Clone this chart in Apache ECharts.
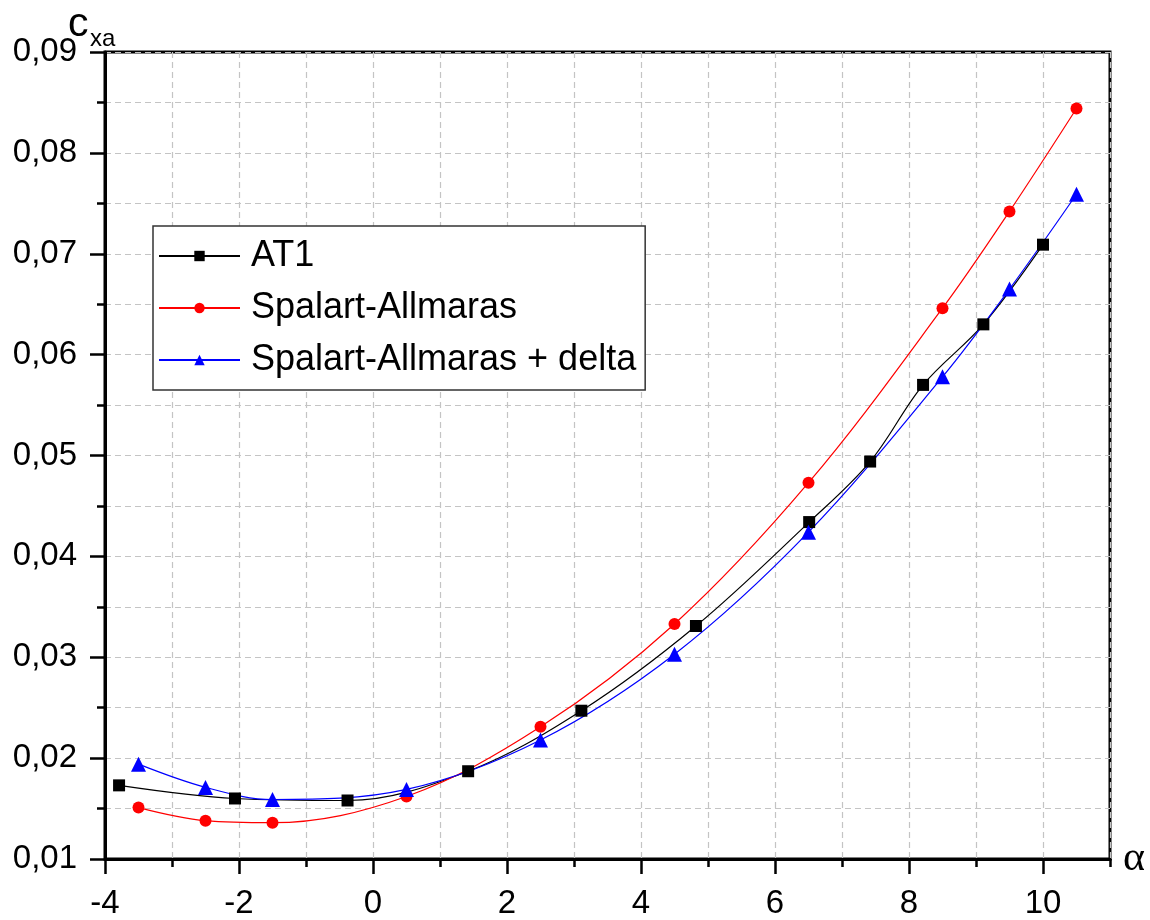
<!DOCTYPE html>
<html>
<head>
<meta charset="utf-8">
<script src="https://cdn.jsdelivr.net/npm/echarts@6/dist/echarts.min.js"></script>
<style>
  html, body { margin: 0; padding: 0; background: #fff; }
  #box { width: 1150px; height: 920px; }
</style>
</head>
<body>
<div id="box"></div>
<script>
// alpha, deg
const alphaAT1 = [-3.79, -2.06, -0.38, 1.42, 3.11, 4.82, 6.51, 7.42, 8.21, 9.11, 10.0];
const cxaAT1 = [0.0173, 0.0160, 0.0158, 0.0187, 0.0247, 0.0331, 0.0434, 0.0494, 0.0570, 0.0630, 0.0709];

const alphaSA = [-3.5, -2.5, -1.5, 0.5, 2.5, 4.5, 6.5, 8.5, 9.5, 10.5];
const cxaSA = [0.0151, 0.0138, 0.0136, 0.0162, 0.0231, 0.0333, 0.0473, 0.0646, 0.0742, 0.0844];
const cxaSAdelta = [0.0194, 0.0171, 0.0159, 0.0169, 0.0218, 0.0303, 0.0424, 0.0578, 0.0665, 0.0759];

const xTickLabels = [-4, -2, 0, 2, 4, 6, 8, 10];
const seriesNames = ["AT1", "Spalart-Allmaras", "Spalart-Allmaras + delta"];

const FONT = "Liberation Sans, Arial, sans-serif";

function pairs(xs, ys) {
  return xs.map((x, i) => [x, ys[i]]);
}

const dashed = { color: "#c4c4c4", width: 1.2, type: [6, 4] };

const chart = echarts.init(document.getElementById("box"));

const option = {
  backgroundColor: "#fff",
  animation: false,
  grid: {
    left: 105,
    right: 40,
    top: 52,
    bottom: 58,
    show: true,
    borderColor: "#000",
    borderWidth: 3,
    backgroundColor: "transparent",
  },
  legend: {
    data: seriesNames,
    orient: "vertical",
    left: 153,
    top: 226,
    padding: [10, 9, 10, 5],
    itemGap: 12,
    itemWidth: 81,
    itemHeight: 13,
    backgroundColor: "#fff",
    borderColor: "#333",
    borderWidth: 1.5,
    textStyle: {
      fontFamily: FONT,
      fontSize: 36,
      color: "#000",
      lineHeight: 40,
      padding: [0, 0, 0, 6],
    },
  },
  xAxis: [
    {
      type: "value",
      min: -4,
      max: 11,
      interval: 1,
      name: "α",
      nameLocation: "end",
      nameGap: 13,
      nameTextStyle: {
        fontFamily: "Liberation Serif, DejaVu Serif, serif",
        fontSize: 42,
        color: "#000",
      },
      axisLine: { onZero: false, lineStyle: { color: "#000", width: 3 } },
      axisTick: { length: 8, lineStyle: { color: "#000", width: 2.5 } },
      axisLabel: {
        customValues: xTickLabels,
        margin: 28,
        fontFamily: FONT,
        fontSize: 33,
        color: "#000",
      },
      splitLine: { show: true, lineStyle: dashed },
    },
    {
      // longer ticks at the labelled values
      type: "value",
      min: -4,
      max: 11,
      interval: 2,
      position: "bottom",
      axisLine: { show: false, onZero: false },
      axisTick: {
        customValues: xTickLabels,
        length: 15,
        lineStyle: { color: "#000", width: 2.5 },
      },
      axisLabel: { show: false },
      splitLine: { show: false },
    },
  ],
  yAxis: {
    type: "value",
    min: 0.01,
    max: 0.09,
    interval: 0.01,
    axisLine: { show: true, onZero: false, lineStyle: { color: "#000", width: 3 } },
    axisTick: { show: true, length: 15, lineStyle: { color: "#000", width: 2.5 } },
    minorTick: { show: true, splitNumber: 2, length: 8, lineStyle: { color: "#000", width: 2.5 } },
    minorSplitLine: { show: true, lineStyle: dashed },
    splitLine: { show: true, lineStyle: dashed },
    axisLabel: {
      margin: 28,
      fontFamily: FONT,
      fontSize: 33,
      color: "#000",
      formatter: (v) => v.toFixed(2).replace(".", ","),
    },
  },
  graphic: [
    {
      type: "text",
      left: 68,
      top: 4,
      style: { text: "c", font: "41px " + FONT, fill: "#000" },
    },
    {
      type: "text",
      left: 90,
      top: 27,
      style: { text: "xa", font: "24px " + FONT, fill: "#000" },
    },
  ],
  series: [
    {
      name: seriesNames[0],
      type: "line",
      data: pairs(alphaAT1, cxaAT1),
      smooth: 0.35,
      symbol: "rect",
      symbolSize: 12,
      itemStyle: { color: "#000" },
      lineStyle: { color: "#000", width: 1.2 },
    },
    {
      name: seriesNames[1],
      type: "line",
      data: pairs(alphaSA, cxaSA),
      smooth: 0.35,
      symbol: "circle",
      symbolSize: 12,
      itemStyle: { color: "#ff0000" },
      lineStyle: { color: "#ff0000", width: 1.2 },
    },
    {
      name: seriesNames[2],
      type: "line",
      data: pairs(alphaSA, cxaSAdelta),
      smooth: 0.35,
      symbol: "triangle",
      symbolSize: 15,
      itemStyle: { color: "#0000ff" },
      lineStyle: { color: "#0000ff", width: 1.2 },
    },
  ],
};

chart.setOption(option);
</script>
</body>
</html>
